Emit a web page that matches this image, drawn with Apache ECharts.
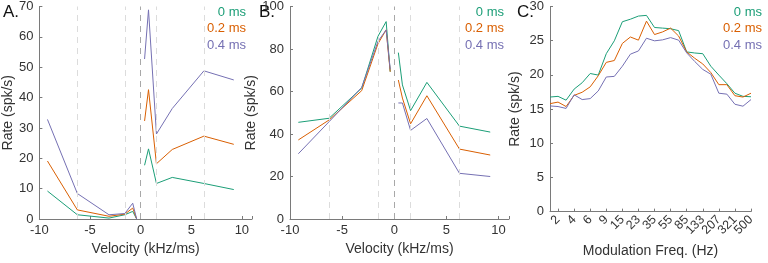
<!DOCTYPE html>
<html>
<head>
<meta charset="utf-8">
<script src="https://cdn.jsdelivr.net/npm/echarts@6/dist/echarts.min.js"></script>
<style>
  html, body { margin: 0; padding: 0; background: #fff; }
  #chart { width: 768px; height: 263px; }
</style>
</head>
<body>
<div id="chart"></div>
<script>
const delays = ["0 ms", "0.2 ms", "0.4 ms"];
const colors = ["#1b9e77", "#d95f02", "#7570b3"];

// velocities (kHz/ms), split into down/up sweeps
const velNeg = [-9.2, -6.25, -3.125, -1.5625, -0.78, -0.39];
const velPos = [0.39, 0.78, 1.5625, 3.125, 6.25, 9.2];
const dividers = [-6.25, -1.5625, 0, 1.5625, 6.25];

// panel A
const aNeg = [
  [9.2, 1.4, 0.3, 1.4, 2.5, 0],
  [19.1, 3.0, 0.9, 1.6, 3.6, 0],
  [32.8, 8.4, 1.4, 1.8, 5.2, 0]
];
const aPos = [
  [17.7, 23.1, 11.7, 13.7, 11.7, 9.7],
  [32.3, 42.6, 18.2, 22.9, 27.3, 24.6],
  [52.7, 68.9, 28.0, 36.4, 48.8, 45.8]
];

// panel B
const bNeg = [
  [45.5, 47.4, 61.6, 86.0, 92.9, 69.3],
  [37.2, 46.6, 60.4, 82.5, 89.0, 69.3],
  [30.7, 45.8, 61.9, 83.6, 89.0, 70.5]
];
const bPos = [
  [78.3, 63.1, 51.0, 64.3, 43.7, 40.9],
  [65.4, 56.9, 44.8, 58.0, 32.9, 30.1],
  [54.6, 54.6, 41.7, 47.3, 21.5, 20.0]
];

// panel C
const freqs = ["1.6", "2", "3", "4", "5", "6", "7", "9", "12", "15", "19", "23", "29",
  "35", "44", "55", "68", "85", "107", "133", "166", "207", "258", "321", "401", "500"];
const cRates = [
  [16.76, 16.86, 16.3, 17.92, 18.85, 20.2, 19.97, 23.1, 24.98, 27.77, 28.14, 28.6, 28.7,
   26.93, 26.84, 26.75, 26.47, 23.36, 23.2, 23.1, 21.27, 19.97, 18.71, 17.32, 16.86, 16.8],
  [15.79, 16.02, 15.37, 17.0, 17.46, 18.25, 19.87, 21.83, 22.1, 24.6, 25.54, 25.08, 27.86,
   25.9, 26.28, 26.84, 25.68, 23.36, 22.43, 21.6, 20.34, 18.57, 18.57, 16.95, 16.76, 17.32],
  [15.46, 15.37, 15.09, 17.09, 16.39, 16.53, 17.65, 19.69, 19.78, 21.27, 23.03, 23.5, 25.36,
   24.98, 25.12, 25.45, 25.08, 23.22, 21.96, 20.8, 20.1, 17.32, 17.18, 15.7, 15.42, 16.39]
];

const FONT = "Liberation Sans, Arial, sans-serif";
const axisLineColor = "#7a7a7a";
const textColor = "#333";

const chart = echarts.init(document.getElementById("chart"));

const grids = [
  { left: 33, top: 4, width: 219, height: 215 },
  { left: 290, top: 4, width: 219, height: 215 },
  { left: 550, top: 4, width: 201, height: 215 }
];

function yAxis(idx, max, step, gap) {
  return {
    gridIndex: idx, type: "value", min: 0, max: max, interval: step,
    name: "Rate (spk/s)", nameLocation: "middle", nameGap: gap,
    nameTextStyle: { color: textColor, fontSize: 14, fontFamily: FONT },
    axisLine: { show: true, onZero: false, lineStyle: { color: axisLineColor } },
    axisTick: { show: true, inside: true, length: 3, lineStyle: { color: axisLineColor } },
    axisLabel: { color: textColor, fontSize: 13, fontFamily: FONT, margin: 6 },
    splitLine: { show: false }
  };
}

function velAxis(idx) {
  return {
    gridIndex: idx, type: "value", min: -10, max: 11, interval: 5,
    name: "Velocity (kHz/ms)", nameLocation: "middle", nameGap: 22,
    nameTextStyle: { color: textColor, fontSize: 14, fontFamily: FONT },
    axisLine: { show: true, onZero: false, lineStyle: { color: axisLineColor } },
    axisTick: { show: true, inside: true, length: 3, lineStyle: { color: axisLineColor } },
    axisLabel: {
      color: textColor, fontSize: 13, fontFamily: FONT, margin: 5,
      formatter: (v) => (v > 10 ? "" : String(v))
    },
    splitLine: { show: false }
  };
}

const series = [];
function velSeries(idx, neg, pos) {
  for (let k = 0; k < 3; k++) {
    series.push({
      type: "line", xAxisIndex: idx, yAxisIndex: idx, symbol: "none",
      lineStyle: { color: colors[k], width: 1 }, z: 3,
      data: velNeg.map((v, i) => [v, neg[k][i]])
    });
    series.push({
      type: "line", xAxisIndex: idx, yAxisIndex: idx, symbol: "none",
      lineStyle: { color: colors[k], width: 1 }, z: 3,
      data: velPos.map((v, i) => [v, pos[k][i]])
    });
  }
  // dashed dividers
  series.push({
    type: "line", xAxisIndex: idx, yAxisIndex: idx, data: [], z: 1,
    markLine: {
      silent: true, symbol: "none", label: { show: false },
      data: dividers.map((d) => ({
        xAxis: d,
        lineStyle: { type: [6, 5], width: 1, color: d === 0 ? "#a8a8a8" : "#dcdcdc" }
      }))
    }
  });
}
velSeries(0, aNeg, aPos);
velSeries(1, bNeg, bPos);

for (let k = 0; k < 3; k++) {
  series.push({
    type: "line", xAxisIndex: 2, yAxisIndex: 2, symbol: "none",
    lineStyle: { color: colors[k], width: 1 },
    data: cRates[k]
  });
}

const graphic = [];
const panelLabels = [["A.", 3, 4], ["B.", 259, 4], ["C.", 517, 4]];
panelLabels.forEach(([t, x, y]) => {
  graphic.push({ type: "text", left: x, top: y,
    style: { text: t, fill: "#111", fontSize: 17, fontFamily: FONT } });
});
const legendRight = [246, 504, 762];
legendRight.forEach((rx) => {
  delays.forEach((d, k) => {
    graphic.push({ type: "text", x: rx, y: 12 + k * 16.6,
      style: { text: d, fill: colors[k], fontSize: 13, fontFamily: FONT,
        align: "right", verticalAlign: "middle" } });
  });
});

chart.setOption({
  animation: false,
  grid: grids,
  xAxis: [
    velAxis(0),
    velAxis(1),
    {
      gridIndex: 2, type: "category", data: freqs, boundaryGap: false,
      name: "Modulation Freq. (Hz)", nameLocation: "middle", nameGap: 26,
      nameTextStyle: { color: textColor, fontSize: 14, fontFamily: FONT },
      axisLine: { show: true, lineStyle: { color: axisLineColor } },
      axisTick: { show: true, inside: true, length: 3, lineStyle: { color: axisLineColor },
        interval: (i) => i % 2 === 1 },
      // every other frequency is labelled (odd indices)
      axisLabel: { color: textColor, fontSize: 12.5, fontFamily: FONT, rotate: 45, margin: 6,
        interval: 0, formatter: (v, i) => (i % 2 === 1 ? v : "") },
      splitLine: { show: false }
    }
  ],
  yAxis: [yAxis(0, 70, 10, 22), yAxis(1, 100, 20, 28), yAxis(2, 30, 5, 28)],
  graphic: graphic,
  series: series
});
</script>
</body>
</html>
